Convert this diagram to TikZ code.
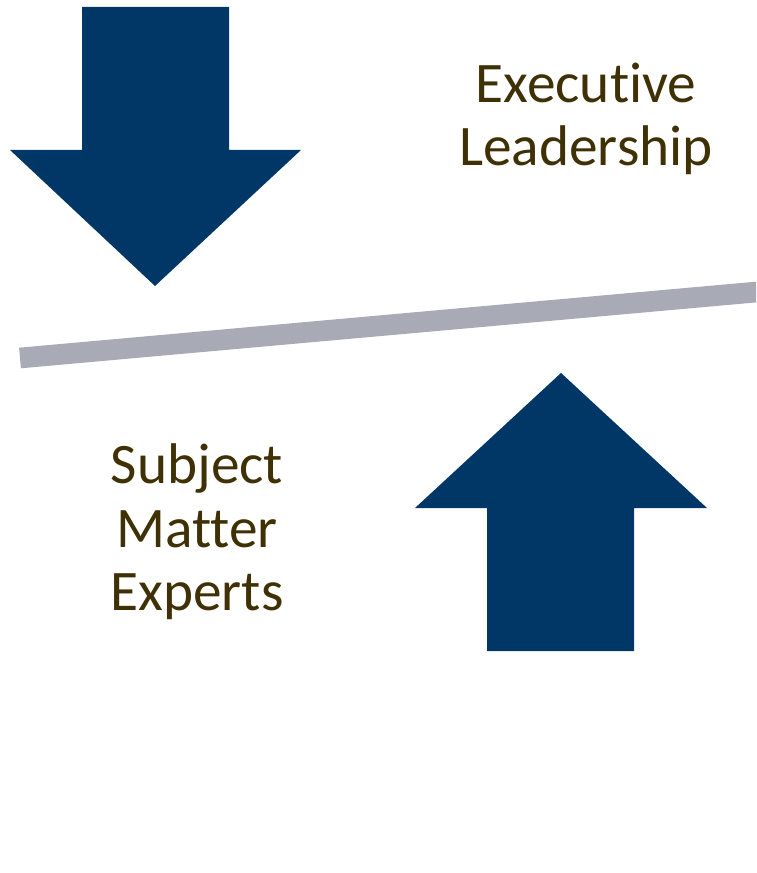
\documentclass[tikz,border=0pt]{standalone}
\usepackage{fontspec}
\setmainfont{Carlito}[Ligatures={NoCommon,NoRare}]
\definecolor{ArrowNavy}{HTML}{003767}
\definecolor{SplitGray}{HTML}{A8ABB6}
\definecolor{LabelBrown}{HTML}{3F3005}

\begin{document}
\begin{tikzpicture}[x=0.75pt,y=-0.75pt,font=\fontsize{43}{47.5}\selectfont]
  \tikzset{grouplabel/.style={text=LabelBrown,align=center,inner sep=0pt}}
  \useasboundingbox (0,0) rectangle (756,873);

  % top-down direction
  \fill[ArrowNavy] (82,7) -- (229,7) -- (229,150) -- (301,150) -- (155,286)
    -- (10,150) -- (82,150) -- cycle;
  \node[grouplabel] (exec) at (586,119) {Executive\\Leadership};

  % dividing line
  \coordinate (splitL) at (20,358);
  \coordinate (splitR) at (790,289);
  \begin{scope}
    \clip (0,0) rectangle (756,873);
    \draw[SplitGray,line width=15.5pt] (splitL) -- (splitR);
  \end{scope}

  % bottom-up direction
  \fill[ArrowNavy] (561,373) -- (707,508) -- (634,508) -- (634,651) -- (487,651)
    -- (487,508) -- (415,508) -- cycle;
  \node[grouplabel] (sme) at (197,532) {Subject\\Matter\\Experts};
\end{tikzpicture}
\end{document}
